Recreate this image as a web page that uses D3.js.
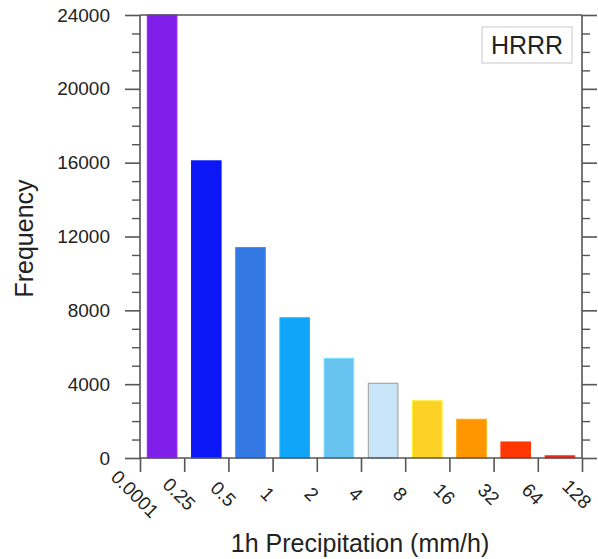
<!DOCTYPE html>
<html lang="en">
  <head>
    <style>
      body { margin: 0; background: #fff; }
      text { font-family: "Liberation Sans", Arial, sans-serif; fill: #222; }
    </style>
    <script src="https://d3js.org/d3.v7.min.js"></script>
  </head>
  <body>
    <svg width="598" height="559"></svg>
    <script>
      // bins of 1h precipitation (mm/h) and their counts
      const edges = ["0.0001", "0.25", "0.5", "1", "2", "4", "8", "16", "32", "64", "128"];
      const bins = ["0.0001-0.25", "0.25-0.5", "0.5-1", "1-2", "2-4", "4-8", "8-16", "16-32", "32-64", "64-128"];
      const counts = [24000, 16100, 11400, 7600, 5400, 4050, 3100, 2100, 870, 120];
      const colors = ["#7f1fe9", "#0c17f7", "#3478e4", "#10a5f8", "#67c3f0",
                      "#c7e5f6", "#fdd126", "#ff9500", "#ff3600", "#e62418"];
      const yMajor = [0, 4000, 8000, 12000, 16000, 20000, 24000];

      const svg = d3.select("svg");
      const pLeft = 140, pRight = 582, pTop = 15, pBottom = 458;
      const axisColor = "#555";

      const x = d3.scaleBand().domain(bins).range([pLeft, pRight])
        .paddingInner(0.33).paddingOuter(0.165);
      const xEdge = d3.scaleLinear().domain([0, edges.length - 1]).range([pLeft, pRight]);
      const y = d3.scaleLinear().domain([0, 24000]).range([pBottom, pTop]);

      // bars
      svg.append("g").selectAll("rect")
        .data(counts)
        .join("rect")
        .attr("x", (d, i) => x(bins[i]))
        .attr("y", d => y(d))
        .attr("width", x.bandwidth())
        .attr("height", d => pBottom - y(d))
        .attr("fill", (d, i) => colors[i])
        .attr("stroke", (d, i) => i === 5 ? "#9a9a9a" : d3.color(colors[i]).brighter(0.4))
        .attr("stroke-width", 1);

      // frame
      const frame = svg.append("g").attr("stroke", axisColor).attr("stroke-width", 1.6);
      frame.append("line").attr("x1", pLeft).attr("x2", pLeft).attr("y1", pTop).attr("y2", pBottom);
      frame.append("line").attr("x1", pRight).attr("x2", pRight).attr("y1", pTop).attr("y2", pBottom);
      frame.append("line").attr("x1", pLeft).attr("x2", pRight).attr("y1", pTop).attr("y2", pTop);
      frame.append("line").attr("x1", pLeft).attr("x2", pRight).attr("y1", pBottom).attr("y2", pBottom);

      // left axis
      const yMinor = d3.range(0, 24001, 1000).filter(v => v % 4000 !== 0);
      const leftAxis = svg.append("g").attr("transform", `translate(${pLeft},0)`)
        .call(d3.axisLeft(y).tickValues(yMajor).tickSize(15).tickPadding(15).tickFormat(d3.format("d")));
      leftAxis.select(".domain").remove();
      leftAxis.selectAll("line").attr("stroke", axisColor).attr("stroke-width", 1.6);
      leftAxis.selectAll("text").attr("font-size", 19).attr("font-family", "Liberation Sans, Arial, sans-serif").attr("fill", "#222");
      svg.append("g").attr("transform", `translate(${pLeft},0)`)
        .call(d3.axisLeft(y).tickValues(yMinor).tickSize(8).tickFormat(""))
        .call(g => g.select(".domain").remove())
        .selectAll("line").attr("stroke", axisColor).attr("stroke-width", 1.4);

      // right axis
      svg.append("g").attr("transform", `translate(${pRight},0)`)
        .call(d3.axisRight(y).tickValues(yMajor).tickSize(15).tickFormat(""))
        .call(g => g.select(".domain").remove())
        .selectAll("line").attr("stroke", axisColor).attr("stroke-width", 1.6);
      svg.append("g").attr("transform", `translate(${pRight},0)`)
        .call(d3.axisRight(y).tickValues(yMinor).tickSize(8).tickFormat(""))
        .call(g => g.select(".domain").remove())
        .selectAll("line").attr("stroke", axisColor).attr("stroke-width", 1.4);

      // bottom axis, ticks at bin edges
      const bottomAxis = svg.append("g").attr("transform", `translate(0,${pBottom})`)
        .call(d3.axisBottom(xEdge).tickValues(d3.range(edges.length)).tickSize(14).tickFormat(""));
      bottomAxis.select(".domain").remove();
      bottomAxis.selectAll("line").attr("stroke", axisColor).attr("stroke-width", 1.6);

      svg.append("g").selectAll("text")
        .data(edges)
        .join("text")
        .attr("transform", (d, i) => `translate(${xEdge(i) - 5},${pBottom + 36}) rotate(45)`)
        .attr("text-anchor", "middle")
        .attr("dy", "0.35em")
        .attr("font-size", 19)
        .text(d => d);

      // axis titles
      svg.append("text")
        .attr("transform", `translate(33,${(pTop + pBottom) / 2 + 2}) rotate(-90)`)
        .attr("text-anchor", "middle")
        .attr("font-size", 25)
        .text("Frequency");
      svg.append("text")
        .attr("x", 360)
        .attr("y", 552)
        .attr("text-anchor", "middle")
        .attr("font-size", 25)
        .text("1h Precipitation (mm/h)");

      // legend label
      svg.append("rect")
        .attr("x", 482).attr("y", 27).attr("width", 90).attr("height", 36)
        .attr("fill", "#fff").attr("stroke", "#c8c8c8").attr("stroke-width", 1);
      svg.append("text")
        .attr("x", 527).attr("y", 54)
        .attr("text-anchor", "middle")
        .attr("font-size", 25)
        .text("HRRR");
    </script>
  </body>
</html>
